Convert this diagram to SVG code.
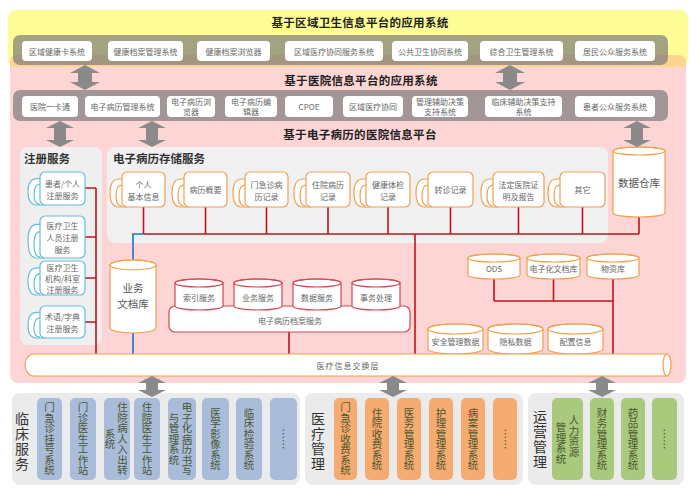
<svg xmlns="http://www.w3.org/2000/svg" width="697" height="500" viewBox="0 0 697 500">
<style>
text{font-family:"Noto Sans CJK SC","Noto Sans",sans-serif}
.t{font-size:8px;fill:#666;text-anchor:middle;dominant-baseline:central}
.h{font-size:11.5px;font-weight:bold;fill:#222;text-anchor:middle;dominant-baseline:central;letter-spacing:0.3px}
.ph{font-size:11.5px;font-weight:bold;fill:#333;dominant-baseline:central}
.wb{fill:#fff}
.bar{fill:#777;fill-opacity:.68}
.arr{fill:#8a8a8a}
.or{fill:#fff;stroke:#f0a050;stroke-width:1.2}
.cy{fill:#fff;stroke:#66bed6;stroke-width:1.2}
.rd{fill:#fff;stroke:#cc4a55;stroke-width:1.2}
.nf{fill:none}
.ln{stroke:#c0141c;stroke-width:1.6;fill:none}
.bl{stroke:#1f70c8;stroke-width:1.6;fill:none}
.v{writing-mode:vertical-rl;font-size:10.5px;fill:#4a5630;text-anchor:middle}
.lab{writing-mode:vertical-rl;font-size:14px;fill:#333;text-anchor:middle;letter-spacing:1px}
.pb{fill:#a9bcd9}.po{fill:#f6ab70}.pg{fill:#a9c97c}
</style>
<defs>
<g id="drum">
<path d="M4,7 H-3 Q-12,7 -12,21 Q-12,35 -3,35 H4 Z" vector-effect="non-scaling-stroke"/>
<path d="M4,13 H0 Q-6,13 -6,24 Q-6,34 0,34" fill="none" vector-effect="non-scaling-stroke"/>
</g>
</defs>

<!-- backgrounds -->
<g id="bg">
<rect x="8" y="10" width="680" height="57" rx="8" fill="#fefc95"/>
<rect x="10" y="55" width="676" height="328" rx="8" fill="#fdd5d5"/>
<path d="M18,55 H678 Q686,55 686,63 V67 H10 V63 Q10,55 18,55 Z" fill="#fcd592"/>
<text class="h" x="360" y="22">基于区域卫生信息平台的应用系统</text>
<text class="h" x="361" y="80">基于医院信息平台的应用系统</text>
<text class="h" x="360" y="134">基于电子病历的医院信息平台</text>
</g>

<!-- regional apps bar -->
<g id="regional-bar">
<rect class="bar" x="13" y="35" width="655" height="30" rx="7"/>
<rect class="wb" x="22" y="41" width="70" height="20" rx="4"/><text class="t" x="57" y="51">区域健康卡系统</text>
<rect class="wb" x="108" y="41" width="75" height="20" rx="4"/><text class="t" x="145.5" y="51">健康档案管理系统</text>
<rect class="wb" x="197" y="41" width="73" height="20" rx="4"/><text class="t" x="233.5" y="51">健康档案浏览器</text>
<rect class="wb" x="285" y="41" width="98" height="20" rx="4"/><text class="t" x="334" y="51">区域医疗协同服务系统</text>
<rect class="wb" x="392" y="41" width="76" height="20" rx="4"/><text class="t" x="430" y="51">公共卫生协同系统</text>
<rect class="wb" x="480" y="41" width="83" height="20" rx="4"/><text class="t" x="521.5" y="51">综合卫生管理系统</text>
<rect class="wb" x="575" y="41" width="80" height="20" rx="4"/><text class="t" x="615" y="51">居民公众服务系统</text>
</g>

<!-- hospital apps bar -->
<g id="hospital-bar">
<rect class="bar" x="13" y="90" width="655" height="31" rx="7"/>
<rect class="wb" x="22" y="96" width="56" height="21" rx="4"/><text class="t" x="50" y="106.5">医院一卡通</text>
<rect class="wb" x="85" y="96" width="75" height="21" rx="4"/><text class="t" x="122.5" y="106.5">电子病历管理系统</text>
<rect class="wb" x="167" y="96" width="48" height="21" rx="4"/><text class="t" x="191" y="101.5">电子病历浏</text><text class="t" x="191" y="111.5">览器</text>
<rect class="wb" x="225" y="96" width="52" height="21" rx="4"/><text class="t" x="251" y="101.5">电子病历编</text><text class="t" x="251" y="111.5">辑器</text>
<rect class="wb" x="285" y="96" width="48" height="21" rx="4"/><text class="t" x="309" y="106.5">CPOE</text>
<rect class="wb" x="343" y="96" width="60" height="21" rx="4"/><text class="t" x="373" y="106.5">区域医疗协同</text>
<rect class="wb" x="412" y="96" width="56" height="21" rx="4"/><text class="t" x="440" y="101.5">管理辅助决策</text><text class="t" x="440" y="111.5">支持系统</text>
<rect class="wb" x="485" y="96" width="77" height="21" rx="4"/><text class="t" x="523.5" y="101.5">临床辅助决策支持</text><text class="t" x="523.5" y="111.5">系统</text>
<rect class="wb" x="575" y="96" width="80" height="21" rx="4"/><text class="t" x="615" y="106.5">患者公众服务系统</text>
</g>

<!-- panels -->
<g id="register-panel">
<rect x="20" y="147" width="82" height="198" rx="8" fill="#efefef"/>
<text class="ph" x="24" y="158">注册服务</text>
</g>
<g id="storage-panel">
<rect x="107" y="147" width="501" height="96" rx="8" fill="#f0f0f0"/>
<text class="ph" x="113" y="158">电子病历存储服务</text>
</g>

<!-- connectors -->
<g id="connectors">
<path class="ln" d="M96,188 V355 M85,188 H96 M85,237 H96 M85,278 H96 M85,322 H96"/>
<path class="ln" d="M143.5,207 V234 M205.5,207 V234 M266.5,207 V234 M328,207 V234 M388,207 V234 M450.5,207 V234 M518.5,207 V234 M582.5,207 V234 M639,217 V234 M143.5,234 H639"/>
<path class="bl" d="M143.5,234 H133 V355"/>
<path class="ln" d="M415,234 V355"/>
<path class="ln" d="M289,332 V355"/>
<path class="ln" d="M494,279 V301 M553.5,279 V301 M494,301 H613 M613,279 V355"/>
</g>

<!-- register items -->
<g id="reg-patient">
<use href="#drum" class="cy" transform="translate(40,172) scale(1,0.943)"/>
<rect class="cy" x="40" y="172" width="45" height="33" rx="5"/>
<text class="t" x="62.5" y="183">患者/个人</text><text class="t" x="62.5" y="195">注册服务</text>
</g>
<g id="reg-staff">
<use href="#drum" class="cy" transform="translate(40,216) scale(1,1.2)"/>
<rect class="cy" x="40" y="216" width="45" height="42" rx="5"/>
<text class="t" x="62.5" y="225">医疗卫生</text><text class="t" x="62.5" y="237">人员注册</text><text class="t" x="62.5" y="249">服务</text>
</g>
<g id="reg-org">
<use href="#drum" class="cy" transform="translate(40,261) scale(1,0.971)"/>
<rect class="cy" x="40" y="261" width="45" height="34" rx="5"/>
<text class="t" x="62.5" y="267">医疗卫生</text><text class="t" x="62.5" y="278">机构/科室</text><text class="t" x="62.5" y="289">注册服务</text>
</g>
<g id="reg-term">
<use href="#drum" class="cy" transform="translate(40,306) scale(1,0.914)"/>
<rect class="cy" x="40" y="306" width="45" height="32" rx="5"/>
<text class="t" x="62.5" y="316">术语/字典</text><text class="t" x="62.5" y="328">注册服务</text>
</g>

<!-- storage items -->
<g id="st-personal"><use href="#drum" class="or" x="122" y="172"/><rect class="or" x="122" y="172" width="43" height="35" rx="5"/><text class="t" x="143.5" y="184">个人</text><text class="t" x="143.5" y="196">基本信息</text></g>
<g id="st-summary"><use href="#drum" class="or" x="184" y="172"/><rect class="or" x="184" y="172" width="43" height="35" rx="5"/><text class="t" x="205.5" y="189.5">病历概要</text></g>
<g id="st-outpatient"><use href="#drum" class="or" x="245" y="172"/><rect class="or" x="245" y="172" width="43" height="35" rx="5"/><text class="t" x="266.5" y="184">门急诊病</text><text class="t" x="266.5" y="196">历记录</text></g>
<g id="st-inpatient"><use href="#drum" class="or" x="306" y="172"/><rect class="or" x="306" y="172" width="44" height="35" rx="5"/><text class="t" x="328" y="184">住院病历</text><text class="t" x="328" y="196">记录</text></g>
<g id="st-checkup"><use href="#drum" class="or" x="366" y="172"/><rect class="or" x="366" y="172" width="44" height="35" rx="5"/><text class="t" x="388" y="184">健康体检</text><text class="t" x="388" y="196">记录</text></g>
<g id="st-referral"><use href="#drum" class="or" x="428" y="172"/><rect class="or" x="428" y="172" width="45" height="35" rx="5"/><text class="t" x="450.5" y="189.5">转诊记录</text></g>
<g id="st-certificate"><use href="#drum" class="or" x="493" y="172"/><rect class="or" x="493" y="172" width="51" height="35" rx="5"/><text class="t" x="518.5" y="184">法定医院证</text><text class="t" x="518.5" y="196">明及报告</text></g>
<g id="st-other"><use href="#drum" class="or" x="560" y="172"/><rect class="or" x="560" y="172" width="45" height="35" rx="5"/><text class="t" x="582.5" y="189.5">其它</text></g>

<!-- data warehouse -->
<g id="data-warehouse">
<path class="or" d="M613,151 A26,4 0 0 1 665,151 V213 A26,4 0 0 1 613,213 Z"/>
<ellipse class="or nf" cx="639" cy="151" rx="26" ry="4"/>
<text x="639" y="182" font-size="10.5" fill="#555" text-anchor="middle" dominant-baseline="central">数据仓库</text>
</g>

<!-- business doc store -->
<g id="business-doc">
<path class="or" d="M110,265 A23,5 0 0 1 156,265 V328 A23,5 0 0 1 110,328 Z"/>
<ellipse class="or nf" cx="133" cy="265" rx="23" ry="5"/>
<text x="133" y="287" font-size="10.5" fill="#555" text-anchor="middle" dominant-baseline="central">业务</text>
<text x="133" y="303" font-size="10.5" fill="#555" text-anchor="middle" dominant-baseline="central">文档库</text>
</g>

<!-- EMR archive service -->
<g id="emr-archive">
<rect class="rd" x="169" y="306" width="241" height="26" rx="6"/>
<text class="t" x="290" y="320" font-size="8.5">电子病历档案服务</text>
<path class="rd" d="M175,283 A24,4 0 0 1 223,283 V306 A24,4 0 0 1 175,306 Z"/><ellipse class="rd nf" cx="199" cy="283" rx="24" ry="4"/><text class="t" x="199" y="297">索引服务</text>
<path class="rd" d="M234,283 A24,4 0 0 1 282,283 V306 A24,4 0 0 1 234,306 Z"/><ellipse class="rd nf" cx="258" cy="283" rx="24" ry="4"/><text class="t" x="258" y="297">业务服务</text>
<path class="rd" d="M293,283 A24,4 0 0 1 341,283 V306 A24,4 0 0 1 293,306 Z"/><ellipse class="rd nf" cx="317" cy="283" rx="24" ry="4"/><text class="t" x="317" y="297">数据服务</text>
<path class="rd" d="M352,283 A24,4 0 0 1 400,283 V306 A24,4 0 0 1 352,306 Z"/><ellipse class="rd nf" cx="376" cy="283" rx="24" ry="4"/><text class="t" x="376" y="297">事务处理</text>
</g>

<!-- ODS group -->
<g id="ods">
<path class="or" d="M468,258 A26,4 0 0 1 520,258 V275 A26,4 0 0 1 468,275 Z"/><ellipse class="or nf" cx="494" cy="258" rx="26" ry="4"/><text class="t" x="494" y="268">ODS</text>
</g>
<g id="e-doc">
<path class="or" d="M527,258 A26.5,4 0 0 1 580,258 V275 A26.5,4 0 0 1 527,275 Z"/><ellipse class="or nf" cx="553.5" cy="258" rx="26.5" ry="4"/><text class="t" x="553.5" y="268" font-size="7.5">电子化文档库</text>
</g>
<g id="material">
<path class="or" d="M587,258 A26,4 0 0 1 639,258 V275 A26,4 0 0 1 587,275 Z"/><ellipse class="or nf" cx="613" cy="258" rx="26" ry="4"/><text class="t" x="613" y="268" font-size="10">物资库</text>
</g>
<g id="security">
<path class="or" d="M428,329 A27.5,5 0 0 1 483,329 V349 A27.5,5 0 0 1 428,349 Z"/><ellipse class="or nf" cx="455.5" cy="329" rx="27.5" ry="5"/><text class="t" x="455.5" y="341">安全管理数据</text>
</g>
<g id="privacy">
<path class="or" d="M488,329 A27.5,5 0 0 1 543,329 V349 A27.5,5 0 0 1 488,349 Z"/><ellipse class="or nf" cx="515.5" cy="329" rx="27.5" ry="5"/><text class="t" x="515.5" y="341">隐私数据</text>
</g>
<g id="config">
<path class="or" d="M548,329 A27.5,5 0 0 1 603,329 V349 A27.5,5 0 0 1 548,349 Z"/><ellipse class="or nf" cx="575.5" cy="329" rx="27.5" ry="5"/><text class="t" x="575.5" y="341">配置信息</text>
</g>

<!-- exchange layer -->
<g id="exchange">
<path class="or" d="M34,354 H667 A4,11 0 0 1 667,376 H34 A9,11 0 0 1 34,354 Z"/>
<path class="or nf" d="M667,354 A4,11 0 0 0 667,376"/>
<text class="t" x="348" y="365" font-size="9.5" style="letter-spacing:1px">医疗信息交换层</text>
</g>

<!-- bottom panels -->
<g id="clinical">
<rect x="12" y="393" width="288" height="92" rx="8" fill="#ebebeb"/>
<text class="lab" x="22" y="442">临床服务</text>
<rect class="pb" x="37" y="398" width="25" height="82" rx="5"/><text class="v" x="49.5" y="439">门急诊挂号系统</text>
<rect class="pb" x="70" y="398" width="26" height="82" rx="5"/><text class="v" x="83" y="439">门诊医生工作站</text>
<rect class="pb" x="104" y="398" width="26" height="82" rx="5"/><text class="v" x="122.5" y="439">住院病人入出转</text><text class="v" x="110" y="439">系统</text>
<rect class="pb" x="134" y="398" width="26" height="82" rx="5"/><text class="v" x="147" y="439">住院医生工作站</text>
<rect class="pb" x="168" y="398" width="28" height="82" rx="5"/><text class="v" x="187" y="439">电子化病历书写</text><text class="v" x="174" y="439">与管理系统</text>
<rect class="pb" x="202" y="398" width="27" height="82" rx="5"/><text class="v" x="215.5" y="439">医学影像系统</text>
<rect class="pb" x="236" y="398" width="26" height="82" rx="5"/><text class="v" x="249" y="439">临床检验系统</text>
<rect class="pb" x="270" y="398" width="27" height="82" rx="5"/><text class="v" x="283.5" y="439">……</text>
</g>
<g id="medical">
<rect x="305" y="393" width="218" height="92" rx="8" fill="#ebebeb"/>
<text class="lab" x="318" y="442">医疗管理</text>
<rect class="po" x="334" y="398" width="23" height="82" rx="5"/><text class="v" x="345.5" y="439">门急诊收费系统</text>
<rect class="po" x="365" y="398" width="24" height="82" rx="5"/><text class="v" x="377" y="439">住院收费系统</text>
<rect class="po" x="397" y="398" width="24" height="82" rx="5"/><text class="v" x="409" y="439">医务管理系统</text>
<rect class="po" x="429" y="398" width="24" height="82" rx="5"/><text class="v" x="441" y="439">护理管理系统</text>
<rect class="po" x="461" y="398" width="24" height="82" rx="5"/><text class="v" x="473" y="439">病案管理系统</text>
<rect class="po" x="493" y="398" width="24" height="82" rx="5"/><text class="v" x="505" y="439">……</text>
</g>
<g id="operation">
<rect x="528" y="393" width="156" height="92" rx="8" fill="#ebebeb"/>
<text class="lab" x="540" y="440">运营管理</text>
<rect class="pg" x="552" y="398" width="31" height="82" rx="5"/><text class="v" x="574" y="436">人力资源</text><text class="v" x="561" y="443">管理系统</text>
<rect class="pg" x="590" y="398" width="24" height="82" rx="5"/><text class="v" x="602" y="439">财务管理系统</text>
<rect class="pg" x="621" y="398" width="24" height="82" rx="5"/><text class="v" x="633" y="439">药品管理系统</text>
<rect class="pg" x="652" y="398" width="25" height="82" rx="5"/><text class="v" x="664.5" y="439">……</text>
</g>

<!-- double arrows -->
<g id="arrows">
<path class="arr" d="M85,65 L100,73 L92,73 L92,82 L100,82 L85,90 L70,82 L78,82 L78,73 L70,73 Z"/>
<path class="arr" d="M510,65 L525,73 L517,73 L517,82 L525,82 L510,90 L495,82 L503,82 L503,73 L495,73 Z"/>
<path class="arr" d="M60,121 L74,128 L66,128 L66,140 L74,140 L60,147 L46,140 L54,140 L54,128 L46,128 Z"/>
<path class="arr" d="M152,121 L166,128 L158,128 L158,140 L166,140 L152,147 L138,140 L146,140 L146,128 L138,128 Z"/>
<path class="arr" d="M637,121 L651,128 L643,128 L643,140 L651,140 L637,147 L623,140 L631,140 L631,128 L623,128 Z"/>
<path class="arr" d="M152,376 L166,383 L158,383 L158,390 L166,390 L152,397 L138,390 L146,390 L146,383 L138,383 Z"/>
<path class="arr" d="M393,376 L407,383 L399,383 L399,390 L407,390 L393,397 L379,390 L387,390 L387,383 L379,383 Z"/>
<path class="arr" d="M602,376 L616,383 L608,383 L608,390 L616,390 L602,397 L588,390 L596,390 L596,383 L588,383 Z"/>
</g>
</svg>
